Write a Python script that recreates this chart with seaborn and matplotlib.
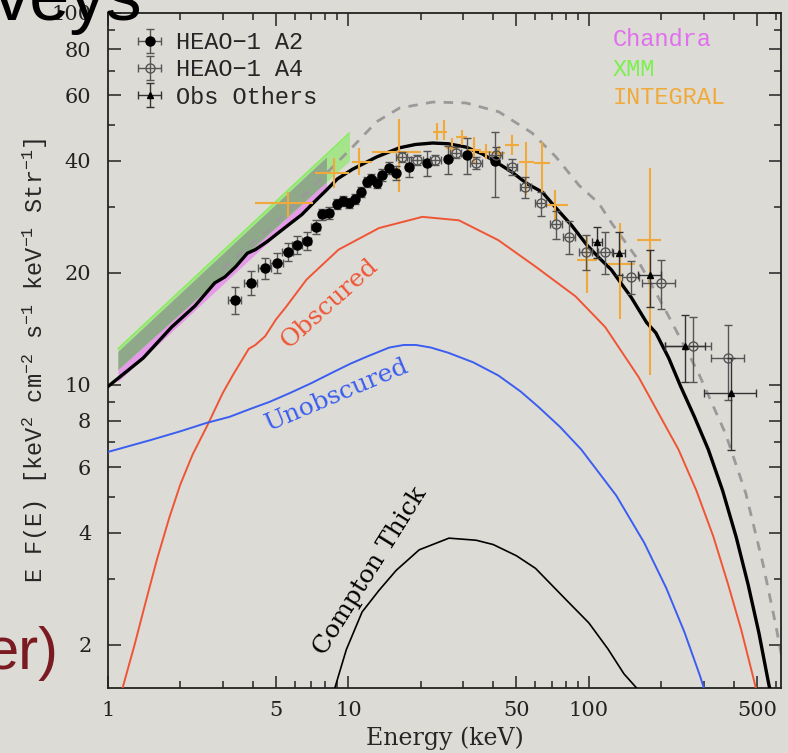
import numpy as np
import matplotlib
matplotlib.use("Agg")
import matplotlib.pyplot as plt
import seaborn as sns
from matplotlib.ticker import NullFormatter

# ---------------- data ----------------
# model curves: energy [keV] and E F(E)
total_E = [1.0, 1.4, 1.84, 2.3, 2.78, 3.06, 3.4, 3.8, 4.1, 4.6, 5.5, 6.4, 7.2, 8.1, 9.0, 10.4,
           13.1, 16.3, 19.0, 22.4, 26.0, 30.8, 36.0, 41.0, 48.0, 52.7, 56.0, 64.0, 73.0, 85.0,
           98.0, 110.0, 124.0, 150.0, 174.0, 190.0, 215.0, 241.0, 275.0, 314.0, 360.0, 410.0,
           460.0, 510.0, 560.0, 590.0]
total_F = [9.9, 11.8, 14.3, 16.3, 18.8, 19.5, 20.8, 22.6, 23.1, 24.3, 26.6, 28.7, 31.0, 33.4, 35.8,
           38.0, 41.0, 43.4, 44.3, 44.7, 44.5, 43.6, 41.8, 39.8, 37.3, 35.6, 34.6, 33.0, 29.9,
           26.8, 23.8, 22.0, 20.4, 17.2, 14.7, 13.8, 11.8, 9.9, 8.2, 6.7, 5.2, 3.9, 2.9, 2.15,
           1.57, 1.35]

dash_E = [3.0, 4.6, 7.1, 10.4, 13.1, 16.3, 22.4, 30.8, 42.3, 58.0, 73.0, 91.0, 110.0, 124.0,
          157.0, 208.0, 285.0, 370.0, 450.0, 530.0, 600.0, 640.0]
dash_F = [20.5, 26.0, 34.0, 43.6, 51.0, 55.5, 57.6, 57.3, 54.2, 47.6, 41.0, 34.4, 30.8, 27.3,
          22.1, 15.9, 10.8, 7.4, 5.1, 3.3, 2.25, 1.8]

obsc_E = [1.14, 1.29, 1.44, 1.6, 1.8, 2.0, 2.25, 2.57, 3.0, 3.3, 3.85, 4.1, 4.5, 5.0, 5.5, 6.7,
          9.1, 13.4, 20.3, 28.8, 42.0, 60.0, 88.0, 117.0, 161.0, 236.0, 280.0, 330.0, 380.0,
          430.0, 480.0, 505.0]
obsc_F = [1.5, 2.0, 2.63, 3.4, 4.4, 5.4, 6.5, 7.7, 9.5, 10.6, 12.5, 12.8, 13.5, 15.0, 16.2, 19.2,
          23.1, 26.4, 28.3, 27.7, 24.5, 20.8, 17.3, 14.3, 10.5, 6.7, 5.2, 3.9, 2.9, 2.2, 1.66, 1.45]

unob_E = [1.0, 1.5, 2.0, 2.57, 3.2, 3.88, 4.7, 5.7, 7.0, 8.6, 10.2, 11.9, 14.8, 17.0, 19.1, 22.0,
          26.0, 33.0, 42.0, 52.0, 62.0, 76.0, 93.0, 130.0, 170.0, 210.0, 250.0, 290.0, 310.0]
unob_F = [6.6, 7.1, 7.5, 7.9, 8.2, 8.6, 9.0, 9.5, 10.1, 10.8, 11.4, 11.9, 12.6, 12.8, 12.8, 12.6,
          12.2, 11.5, 10.6, 9.6, 8.7, 7.7, 6.7, 5.04, 3.76, 2.84, 2.16, 1.65, 1.44]

cthk_E = [8.7, 9.8, 11.4, 13.4, 15.8, 19.7, 26.2, 34.0, 40.0, 50.0, 60.0, 81.0, 100.0, 120.0,
          140.0, 158.0, 170.0]
cthk_F = [1.5, 1.94, 2.45, 2.8, 3.17, 3.6, 3.87, 3.82, 3.72, 3.47, 3.21, 2.63, 2.29, 1.95, 1.67,
          1.53, 1.35]

# Chandra / XMM bands (end points)
chandra_E = [1.1, 8.1]
chandra_lo = [10.2, 33.8]
chandra_hi = [12.3, 41.0]
xmm_E = [1.1, 10.1]
xmm_lo = [11.0, 40.0]
xmm_hi = [12.5, 47.6]

# HEAO-1 A2
a2_E = [3.37, 3.92, 4.48, 5.03, 5.58, 6.14, 6.70, 7.30, 7.80, 8.30, 8.97, 9.50, 10.1, 10.7, 11.3,
        11.9, 12.4, 13.1, 13.8, 14.8, 15.8, 17.8, 21.3, 26.0, 31.0, 40.6]
a2_F = [16.9, 18.8, 20.6, 21.3, 22.8, 23.8, 24.4, 26.6, 28.8, 29.0, 30.7, 31.2, 30.9, 31.6, 33.0,
        35.2, 35.8, 35.0, 36.7, 38.3, 37.2, 38.6, 39.5, 40.5, 41.5, 40.0]
a2_Ferr = [1.4, 1.4, 1.4, 1.3, 1.3, 1.3, 1.3, 1.2, 1.0, 1.0, 1.0, 1.0, 1.0, 1.0, 1.0, 1.1, 1.1,
           1.2, 1.3, 1.4, 1.6, 2.3, 3.0, 3.5, 4.5, 8.0]
a2_Eerr = [0.22, 0.25, 0.28, 0.3, 0.3, 0.3, 0.3, 0.3, 0.25, 0.25, 0.25, 0.25, 0.25, 0.25, 0.25,
           0.25, 0.25, 0.25, 0.3, 0.3, 0.3, 0.5, 0.5, 0.5, 0.5, 0.5]

# HEAO-1 A4
a4_E = [16.7, 19.3, 23.0, 28.0, 34.0, 41.0, 48.0, 54.5, 63.0, 73.0, 83.0, 97.0, 117.0, 150.0,
        200.0, 271.0, 380.0]
a4_F = [41.0, 40.3, 40.3, 42.1, 39.5, 41.5, 38.6, 34.1, 30.8, 27.0, 25.0, 22.8, 22.8, 19.5, 18.8,
        12.7, 11.8]
a4_Ferr = [1.2, 1.2, 1.3, 1.4, 1.5, 2.0, 2.0, 2.2, 2.3, 2.4, 2.5, 2.5, 2.9, 2.0, 2.8, 2.5, 2.7]
a4_Elo = [15.8, 18.2, 21.8, 26.5, 32.0, 38.5, 45.5, 51.5, 59.5, 69.0, 78.0, 91.0, 109.0, 138.0,
          166.0, 208.0, 322.0]
a4_Ehi = [17.6, 20.4, 24.2, 29.5, 36.0, 43.5, 50.5, 57.5, 66.5, 77.0, 88.0, 103.0, 125.0, 162.0,
          228.0, 322.0, 440.0]

# other observations
oth_E = [108.0, 134.0, 179.0, 252.0, 392.0]
oth_F = [24.2, 22.6, 19.7, 12.7, 9.5]
oth_Flo = [22.0, 19.8, 16.2, 10.2, 6.7]
oth_Fhi = [26.6, 25.7, 23.1, 15.4, 11.8]
oth_Elo = [103.0, 126.0, 160.0, 208.0, 300.0]
oth_Ehi = [113.0, 142.0, 200.0, 305.0, 495.0]

# INTEGRAL
int_E = [5.58, 8.75, 11.1, 16.3, 23.4, 25.0, 27.0, 29.6, 33.3, 37.3, 42.4, 47.8, 55.0, 64.0,
         72.0, 98.0, 135.0, 180.0]
int_F = [30.9, 37.2, 39.8, 42.3, 47.9, 47.9, 43.3, 46.4, 42.9, 42.3, 42.0, 44.1, 39.8, 39.5,
         30.5, 21.7, 21.1, 24.5]
int_Flo = [28.3, 33.8, 36.7, 33.0, 45.5, 45.5, 40.3, 44.1, 39.5, 40.5, 40.5, 41.5, 32.5, 33.0,
           27.8, 17.7, 15.0, 10.6]
int_Fhi = [33.0, 40.8, 43.4, 52.0, 50.6, 51.5, 46.1, 48.5, 46.4, 44.5, 44.0, 47.0, 45.0, 45.0,
           33.5, 25.3, 27.2, 38.4]
int_Elo = [4.08, 7.25, 10.3, 12.5, 22.5, 24.3, 25.5, 28.0, 31.0, 35.0, 39.5, 45.0, 51.0, 59.0,
           66.5, 89.0, 120.0, 158.0]
int_Ehi = [7.10, 10.1, 12.5, 20.0, 24.5, 25.8, 28.5, 31.0, 35.5, 39.5, 45.0, 51.0, 59.0, 69.0,
           82.0, 108.0, 155.0, 200.0]

xtick_major = [1, 5, 10, 50, 100, 500]
xtick_labels = ["1", "5", "10", "50", "100", "500"]
ytick_major = [2, 4, 6, 8, 10, 20, 40, 60, 80, 100]
ytick_labels = ["2", "4", "6", "8", "10", "20", "40", "60", "80", "100"]
ytick_minor = [3, 5, 7, 9, 30, 50, 70, 90]

# ---------------- styling ----------------
sns.set_theme(style="ticks")
BG = "#dddbd6"
RED = "#ef5535"
BLUE = "#3b5ef0"
ORANGE = "#f0aa3c"
MONO = ["Liberation Mono", "DejaVu Sans Mono"]
SERIF = ["DejaVu Serif"]
plt.rcParams.update({
    "font.family": SERIF,
    "mathtext.fontset": "custom",
    "mathtext.rm": "Liberation Mono",
    "mathtext.it": "Liberation Mono",
    "mathtext.bf": "Liberation Mono",
    "mathtext.default": "rm",
    "axes.unicode_minus": True,
})

W, H = 788, 753
fig = plt.figure(figsize=(W / 100, H / 100), dpi=100, facecolor=BG)
L, R, T, B = 108, 781, 13, 688
ax = fig.add_axes([L / W, 1 - B / H, (R - L) / W, (B - T) / H], facecolor=BG)
ax.set_xscale("log")
ax.set_yscale("log")


def loginterp(x, xp, fp):
    return 10 ** np.interp(np.log10(x), np.log10(xp), np.log10(fp))


# bands
ax.fill_between(chandra_E, chandra_lo, chandra_hi, color="#e49be8", lw=0, zorder=1)
ax.fill_between(xmm_E, xmm_lo, xmm_hi, color="#a6e48c", lw=0, zorder=1.1)
ov_lo = np.maximum(loginterp(chandra_E, xmm_E, xmm_lo), chandra_lo)
ov_hi = np.minimum(loginterp(chandra_E, xmm_E, xmm_hi), chandra_hi)
ax.fill_between(chandra_E, ov_lo, ov_hi, color="#8fa88a", lw=0, zorder=1.2)
ax.plot(xmm_E, xmm_hi, color="#7cf050", lw=1.0, zorder=1.3)

# model curves
sns.lineplot(x=dash_E, y=dash_F, ax=ax, color="#9a9a9a", lw=2.0, linestyle=(0, (3.4, 3.0)),
             sort=False, estimator=None, zorder=2)
sns.lineplot(x=obsc_E, y=obsc_F, ax=ax, color=RED, lw=1.4, sort=False, estimator=None, zorder=3)
sns.lineplot(x=unob_E, y=unob_F, ax=ax, color=BLUE, lw=1.4, sort=False, estimator=None, zorder=3)
sns.lineplot(x=cthk_E, y=cthk_F, ax=ax, color="black", lw=1.2, sort=False, estimator=None, zorder=3)
sns.lineplot(x=total_E, y=total_F, ax=ax, color="black", lw=2.4, sort=False, estimator=None, zorder=4)

# data points
iE = np.array(int_E); iF = np.array(int_F)
ax.errorbar(iE, iF, xerr=[iE - np.array(int_Elo), np.array(int_Ehi) - iE],
            yerr=[iF - np.array(int_Flo), np.array(int_Fhi) - iF],
            fmt="none", ecolor=ORANGE, elinewidth=1.5, capsize=0, zorder=5)

h_a2 = ax.errorbar(a2_E, a2_F, xerr=a2_Eerr, yerr=a2_Ferr, fmt="o", ms=6.5, color="black",
                   ecolor="#555555", elinewidth=1.0, capsize=3, capthick=1.0, zorder=6,
                   label="HEAO\u22121 A2")
a4E = np.array(a4_E)
h_a4 = ax.errorbar(a4_E, a4_F, xerr=[a4E - np.array(a4_Elo), np.array(a4_Ehi) - a4E],
                   yerr=a4_Ferr, fmt="o", ms=6.5, mfc="none", mec="#555555", mew=1.0,
                   ecolor="#555555", elinewidth=1.0, capsize=3, capthick=1.0, zorder=6,
                   label="HEAO\u22121 A4")
oE = np.array(oth_E); oF = np.array(oth_F)
h_ot = ax.errorbar(oE, oF, xerr=[oE - np.array(oth_Elo), np.array(oth_Ehi) - oE],
                   yerr=[oF - np.array(oth_Flo), np.array(oth_Fhi) - oF],
                   fmt="^", ms=4, color="black", ecolor="#333333", elinewidth=1.0,
                   capsize=3, capthick=1.0, zorder=6, label="Obs Others")

ax.set_xlim(1, 630)
ax.set_ylim(1.53, 100)

# ticks
xtick_minor = [m * d for d in (1, 10, 100) for m in range(2, 10)
               if m * d not in xtick_major and m * d < 630]
ax.set_xticks(xtick_major, labels=xtick_labels)
ax.set_xticks(xtick_minor, minor=True)
ax.set_yticks(ytick_major, labels=ytick_labels)
ax.set_yticks(ytick_minor, minor=True)
ax.xaxis.set_minor_formatter(NullFormatter())
ax.yaxis.set_minor_formatter(NullFormatter())
ax.tick_params(which="both", direction="in", top=True, right=True, colors="#222222",
               width=1.1)
ax.tick_params(which="major", length=9, labelsize=15)
ax.tick_params(which="minor", length=5)
ax.tick_params(axis="x", which="major", pad=9)
ax.tick_params(axis="y", which="major", pad=12)
for s in ax.spines.values():
    s.set_color("#222222")
    s.set_linewidth(1.3)

ax.set_xlabel("Energy (keV)", fontsize=17, family=SERIF)
ax.xaxis.set_label_coords(0.5, -(726 - B) / (B - T))
ax.set_ylabel(r"E F(E) [keV$^{2}$ cm$^{-2}$ s$^{-1}$ keV$^{-1}$ Str$^{-1}$]",
              fontsize=17, family=MONO)
ax.yaxis.set_label_coords((50 - L) / (R - L), (B - 360) / (B - T))

# legend
leg = ax.legend(handles=[h_a2, h_a4, h_ot], loc="upper left",
                bbox_to_anchor=((133 - L) / (R - L), (B - 31) / (B - T)),
                frameon=False, prop={"family": MONO, "size": 17}, handlelength=1.4,
                handletextpad=0.4, labelspacing=0.18, borderpad=0, borderaxespad=0)

# mission labels
for txt, col, yy in [("Chandra", "#e070ee", 40), ("XMM", "#7cf050", 70),
                     ("INTEGRAL", ORANGE, 97)]:
    ax.text((613 - L) / (R - L), (B - yy) / (B - T), txt, color=col, family=MONO,
            fontsize=17, ha="left", va="center", transform=ax.transAxes)

# curve labels
ax.text(8.35, 16.6, "Obscured", color=RED, fontsize=18, rotation=42, rotation_mode="anchor",
        ha="center", va="center", family=SERIF)
ax.text(9.0, 9.4, "Unobscured", color=BLUE, fontsize=18, rotation=23, rotation_mode="anchor",
        ha="center", va="center", family=SERIF)
ax.text(12.4, 3.16, "Compton Thick", color="black", fontsize=18, rotation=58,
        rotation_mode="anchor", ha="center", va="center", family=SERIF)

# slide text behind the figure
fig.text(-6 / W, 1 - 20 / H, "veys", fontsize=52, color="black",
         family=["Liberation Sans", "DejaVu Sans"], ha="left", va="baseline")
fig.text(58 / W, 1 - 669 / H, "er)", fontsize=43, color="#7a1b22",
         family=["Liberation Sans", "DejaVu Sans"], ha="right", va="baseline")

fig.savefig("out.png", dpi=100, facecolor=BG)
